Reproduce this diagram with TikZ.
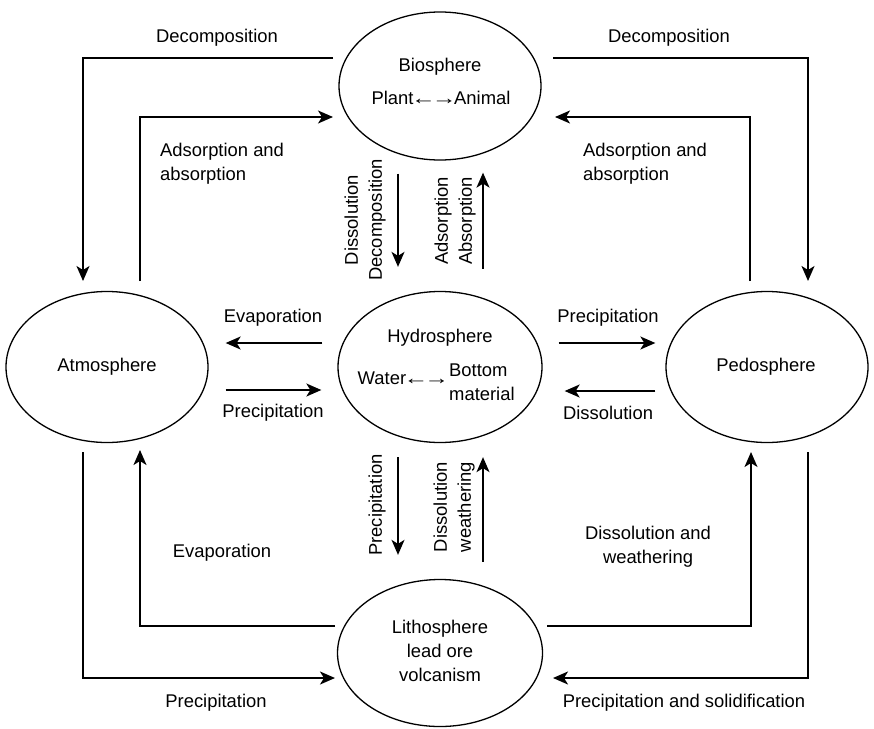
\documentclass[tikz,border=0pt]{standalone}
\usepackage{fontspec}
\setmainfont{Liberation Sans}
\usetikzlibrary{arrows.meta,shapes.geometric}
% two-way arrow between words: two stretched arrows with a small gap
\newcommand{\twoway}{\kern-2.5pt\scalebox{1.35}[1]{←}\kern-4pt\scalebox{1.35}[1]{→}\kern-2.5pt}
\begin{document}
\begin{tikzpicture}[x=1pt,y=-1pt,
  sphere/.style={draw,ellipse,line width=1.3pt,inner sep=0pt,minimum width=202pt,minimum height=148pt},
  flow/.style={line width=1.6pt,-{Stealth[length=15pt,width=13pt,inset=4pt]}},
  txt/.style={inner sep=0pt,font=\fontsize{18.4}{24}\selectfont},
  vlab/.style={txt,rotate=90,align=center}]
\useasboundingbox (0,0) rectangle (874,728);

% the five spheres
\node[sphere] (bio) at (440,86) {};
\node[sphere,minimum width=204pt,minimum height=151pt] (hyd) at (440,367) {};
\node[sphere,minimum width=205pt,minimum height=147pt] (lit) at (440,653) {};
\node[sphere,minimum height=151pt] (atm) at (107,367) {};
\node[sphere,minimum width=202pt,minimum height=151pt] (ped) at (767,367) {};

% texts inside the spheres
\node[txt] (bioT) at (440,67) {Biosphere};
\node[txt] (bioS) at (441,98) {Plant\twoway Animal};
\node[txt] (hydT) at (440,338) {Hydrosphere};
\node[txt,anchor=east] (hydW) at (447,378) {Water\twoway};
\node[txt,anchor=west,align=left] (hydB) at (449,382) {Bottom\\material};
\node[txt,align=center] (litT) at (440,651) {Lithosphere\\lead ore\\volcanism};
\node[txt] (atmT) at (107,367) {Atmosphere};
\node[txt] (pedT) at (766,367) {Pedosphere};

% end points of the elbow connectors
\coordinate (bioA) at (333,58);  \coordinate (atmA) at (83,281);
\coordinate (atmB) at (140,281); \coordinate (bioB) at (333,117);
\coordinate (bioC) at (553,58);  \coordinate (pedC) at (808,281);
\coordinate (pedD) at (750,281); \coordinate (bioD) at (555,117);
\coordinate (litE) at (335,626); \coordinate (atmE) at (140,450);
\coordinate (atmF) at (83,452);  \coordinate (litF) at (335,678);
\coordinate (litG) at (547,626); \coordinate (pedG) at (751,452);
\coordinate (pedH) at (808,452); \coordinate (litH) at (553,678);

% elbow connectors round the outside
\draw[flow] (bioA) -| (atmA);
\draw[flow] (atmB) |- (bioB);
\draw[flow] (bioC) -| (pedC);
\draw[flow] (pedD) |- (bioD);
\draw[flow] (litE) -| (atmE);
\draw[flow] (atmF) |- (litF);
\draw[flow] (litG) -| (pedG);
\draw[flow] (pedH) |- (litH);

% straight connectors round the hydrosphere
\draw[flow] ([xshift=-42pt,yshift=-13pt]bio.south) -- ([xshift=-42pt,yshift=24pt]hyd.north);
\draw[flow] ([xshift=43pt,yshift=22pt]hyd.north) -- ([xshift=43pt,yshift=-12pt]bio.south);
\draw[flow] ([xshift=-42pt,yshift=-14pt]hyd.south) -- ([xshift=-42pt,yshift=24pt]lit.north);
\draw[flow] ([xshift=43pt,yshift=17pt]lit.north) -- ([xshift=43pt,yshift=-14pt]hyd.south);
\draw[flow] ([xshift=-15pt,yshift=24pt]hyd.west) -- ([xshift=17pt,yshift=24pt]atm.east);
\draw[flow] ([xshift=17pt,yshift=-23pt]atm.east) -- ([xshift=-16pt,yshift=-23pt]hyd.west);
\draw[flow] ([xshift=16pt,yshift=24pt]hyd.east) -- ([xshift=-10pt,yshift=24pt]ped.west);
\draw[flow] ([xshift=-10pt,yshift=-24pt]ped.west) -- ([xshift=22pt,yshift=-24pt]hyd.east);

% process labels
\node[txt] (lDecL) at (217,38) {Decomposition};
\node[txt] (lDecR) at (669,38) {Decomposition};
\node[txt,anchor=west,align=left] (lAdsL) at (160,164) {Adsorption and\\absorption};
\node[txt,anchor=west,align=left] (lAdsR) at (583,164) {Adsorption and\\absorption};
\node[vlab] (lDisDec) at (365,220) {Dissolution\\Decomposition};
\node[vlab] (lAdsAbs) at (455,221) {Adsorption\\Absorption};
\node[vlab] (lPreV) at (377,505) {Precipitation};
\node[vlab] (lDisWea) at (454,507) {Dissolution\\weathering};
\node[txt] (lEvaH) at (273,318) {Evaporation};
\node[txt] (lPreH) at (273,413) {Precipitation};
\node[txt] (lPreR) at (608,318) {Precipitation};
\node[txt] (lDisR) at (608,413) {Dissolution};
\node[txt] (lEvaB) at (222,553) {Evaporation};
\node[txt] (lPreB) at (216,703) {Precipitation};
\node[txt,align=center] (lDisB) at (648,547) {Dissolution and\\weathering};
\node[txt] (lPreS) at (684,703) {Precipitation and solidification};
\end{tikzpicture}
\end{document}
